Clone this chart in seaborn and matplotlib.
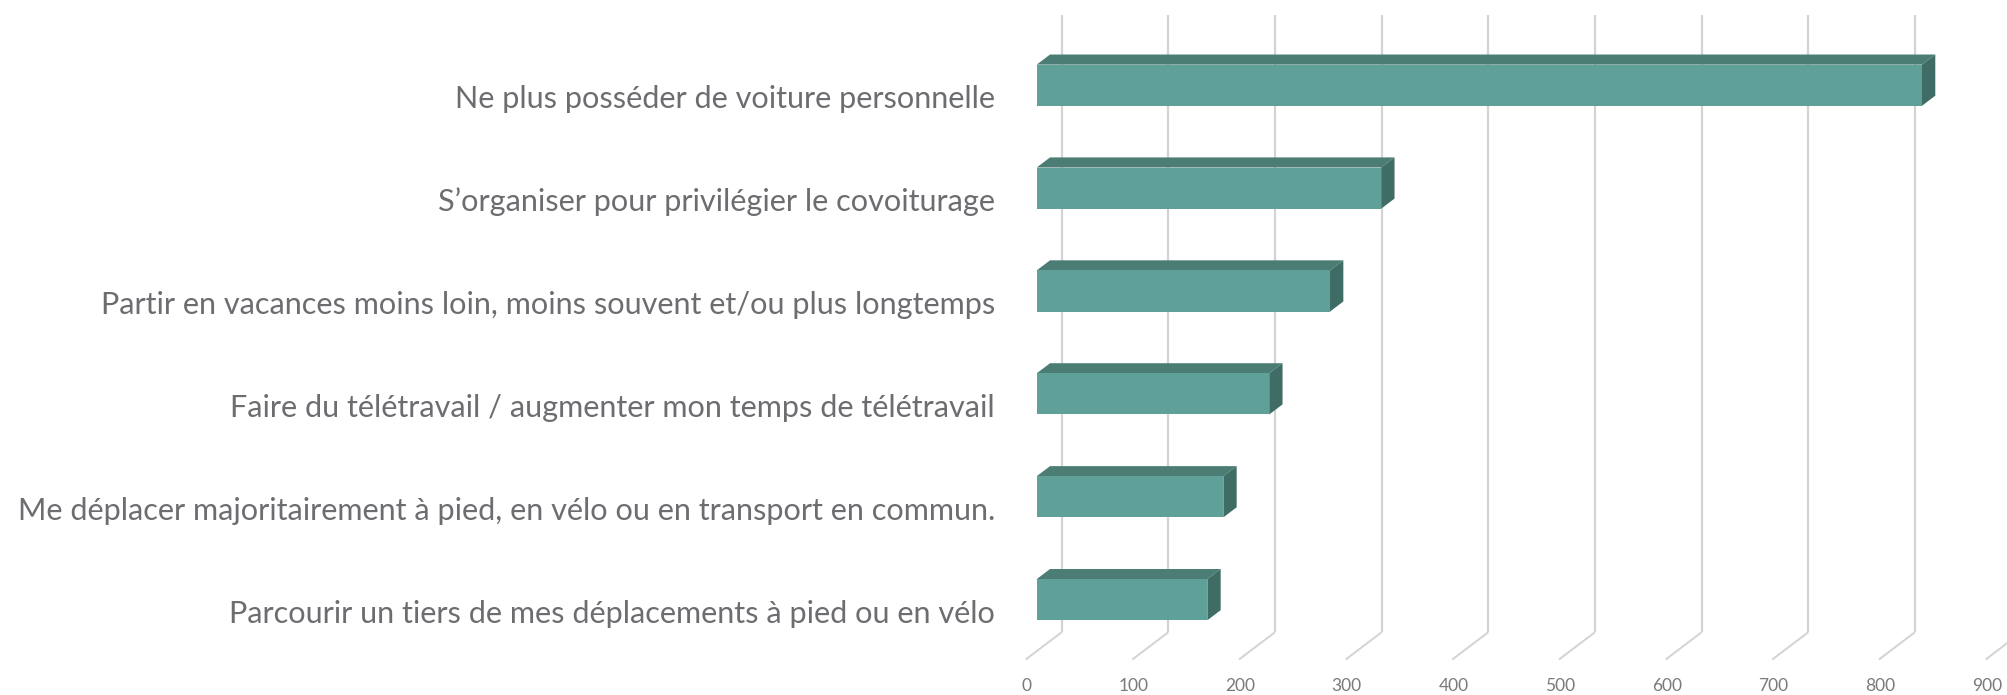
import matplotlib
matplotlib.use("Agg")
import matplotlib.pyplot as plt
from matplotlib.patches import Polygon
import seaborn as sns
import pandas as pd

# --- data -------------------------------------------------------------
categories = [
    "Ne plus posséder de voiture personnelle",
    "S\u2019organiser pour privilégier le covoiturage",
    "Partir en vacances moins loin, moins souvent et/ou plus longtemps",
    "Faire du télétravail / augmenter mon temps de télétravail",
    "Me déplacer majoritairement à pied, en vélo ou en transport en commun.",
    "Parcourir un tiers de mes déplacements à pied ou en vélo",
]
values = [830, 323, 275, 218, 175, 160]
tick_values = [0, 100, 200, 300, 400, 500, 600, 700, 800, 900]
tick_labels = [str(t) for t in tick_values]

# --- style ------------------------------------------------------------
sns.set_theme(style="white")
plt.rcParams["font.family"] = ["Lato", "DejaVu Sans"]

FRONT = "#5fa198"
TOP = "#4b7d75"
SIDE = "#3f6d66"
GRID = "#d3d3d3"
TEXT = "#6b6d70"
TICK = "#7a7a7a"

W, H, DPI = 2008, 695, 100
fig = plt.figure(figsize=(W / DPI, H / DPI), dpi=DPI)
ax = fig.add_axes([0, 0, 1, 1])

df = pd.DataFrame({"cat": categories, "val": values})
BAR_W = 0.4
sns.barplot(data=df, x="val", y="cat", orient="h", width=BAR_W,
            color=FRONT, saturation=1, linewidth=0, ax=ax, zorder=3)

# oblique projection: x in value units, y in category units
PX = 1.0666          # pixels per value unit
PY = 102.9           # pixels per category step
ax.set_xlim(-1036.7 / PX, (W - 1036.7) / PX)
ax.set_ylim((H - 85.2) / PY, -85.2 / PY)
ax.axis("off")

# depth shift (full floor depth) in data units
DEPTH_X = 36.0 / PX
DEPTH_Y = 27.3 / PY


def shift(d):
    """Offset of a plane at depth d (0 = bar front, + = towards back)."""
    return d * DEPTH_X, -d * DEPTH_Y


D_BACK_BAR = 0.37
D_WALL = 0.694
D_FRONT = -0.306

n = len(categories)
lo, hi = -0.5, n - 0.5

# back wall gridlines and floor diagonals
wx, wy = shift(D_WALL)
fx, fy = shift(D_FRONT)
for t in tick_values:
    ax.plot([t + wx, t + wx], [lo + wy, hi + wy], color=GRID, lw=1.6,
            zorder=1, solid_capstyle="butt")
    ax.plot([t + wx, t + fx], [hi + wy, hi + fy], color=GRID, lw=1.4,
            zorder=1, solid_capstyle="butt")

# 3D top and side faces of every bar
bx, by = shift(D_BACK_BAR)
for i, v in enumerate(values):
    y0, y1 = i - BAR_W / 2, i + BAR_W / 2
    top = Polygon([(0, y0), (v, y0), (v + bx, y0 + by), (bx, y0 + by)],
                  closed=True, facecolor=TOP, edgecolor="none", zorder=2)
    side = Polygon([(v, y0), (v, y1), (v + bx, y1 + by), (v + bx, y0 + by)],
                   closed=True, facecolor=SIDE, edgecolor="none", zorder=4)
    ax.add_patch(top)
    ax.add_patch(side)

# category labels on the front plane
label_x = fx - 28.8
texts = []
for i, c in enumerate(categories):
    t = ax.text(label_x, i + fy + 0.03, c, ha="right", va="center_baseline",
                fontsize=20, color=TEXT)
    texts.append(t)

# scale label size so the longest label spans its measured width
fig.canvas.draw()
renderer = fig.canvas.get_renderer()
widest = max(t.get_window_extent(renderer).width for t in texts)
size = 20 * 982.0 / widest
for t in texts:
    t.set_fontsize(size)

# value tick labels below the floor
for t, lab in zip(tick_values, tick_labels):
    ax.text(t + fx + 1.0, hi + fy + 0.26, lab, ha="center", va="center",
            fontsize=12.5, color=TICK)

fig.savefig("out.png", dpi=DPI)
